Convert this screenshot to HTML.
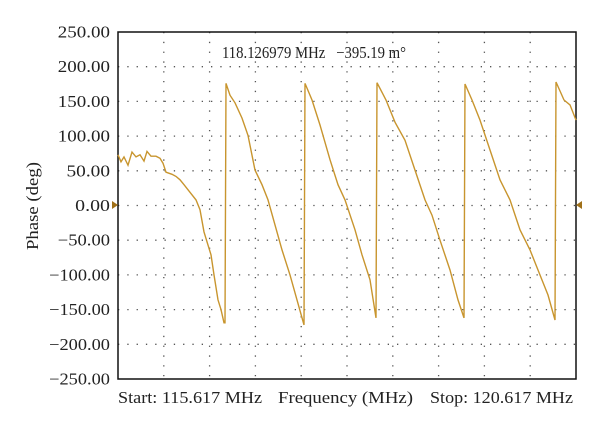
<!DOCTYPE html>
<html><head><meta charset="utf-8"><style>
body{margin:0;background:#fff}
svg text{font-family:"Liberation Serif",serif;fill:#222}
</style></head><body>
<svg width="600" height="430" viewBox="0 0 600 430">
<g id="grid"></g>
<g id="ylabels"></g>
<rect x="118" y="32" width="458" height="347" fill="none" stroke="#111" stroke-width="1.5"/>
<polyline id="line" fill="none" stroke="#c8952e" stroke-width="1.4"/>
<polygon points="112,201 118,205 112,209" fill="#a07018"/>
<polygon points="582,201 576,205 582,209" fill="#a07018"/>
<text x="222" y="58" font-size="16.5" textLength="184" lengthAdjust="spacingAndGlyphs">118.126979 MHz&#160;&#160;&#160;−395.19 m°</text>
<text x="118" y="403" font-size="16.5" textLength="144" lengthAdjust="spacingAndGlyphs">Start: 115.617 MHz</text>
<text x="278" y="403" font-size="16.5" textLength="135" lengthAdjust="spacingAndGlyphs">Frequency (MHz)</text>
<text x="430" y="403" font-size="16.5" textLength="143" lengthAdjust="spacingAndGlyphs">Stop: 120.617 MHz</text>
<text transform="translate(38,206) rotate(-90)" text-anchor="middle" font-size="16.5" textLength="88" lengthAdjust="spacingAndGlyphs">Phase (deg)</text>
</svg>
<script>
const yTicks=[250,200,150,100,50,0,-50,-100,-150,-200,-250];
const freqs=[115.617,115.650,115.683,115.726,115.770,115.814,115.857,115.901,115.934,115.977,116.032,116.076,116.108,116.141,116.207,116.250,116.294,116.338,116.403,116.469,116.512,116.556,116.600,116.632,116.665,116.709,116.741,116.774,116.785,116.796,116.840,116.894,116.971,117.036,117.113,117.189,117.255,117.331,117.407,117.495,117.571,117.648,117.659,117.735,117.822,117.931,118.019,118.095,118.204,118.281,118.368,118.434,118.445,118.543,118.641,118.750,118.859,118.969,119.045,119.132,119.241,119.329,119.394,119.405,119.482,119.569,119.678,119.787,119.896,120.006,120.115,120.202,120.311,120.388,120.399,120.486,120.551,120.617];
const phases=[73,63,70,58,77,70,73,64,78,71,71,68,61,48,45,42,37,30,19,8,-6,-38,-57,-71,-100,-136,-150,-169,-169,176,159,148,126,101,51,30,8,-28,-64,-100,-136,-172,176,152,116,66,30,8,-35,-71,-107,-162,177,152,120,94,51,8,-14,-50,-93,-136,-162,175,152,123,80,37,8,-35,-64,-93,-129,-165,178,152,145,123];
const X0=118,X1=576,Y0=32,Y1=379,F0=115.617,F1=120.617;
const xs=f=>X0+(f-F0)/(F1-F0)*(X1-X0);
const ys=v=>Y0+(250-v)/500*(Y1-Y0);
const NS="http://www.w3.org/2000/svg";
const grid=document.getElementById('grid'),yl=document.getElementById('ylabels');
for(let i=1;i<10;i++){
  const x=X0+i*(X1-X0)/10;
  const l=document.createElementNS(NS,'line');
  
  
  l.setAttribute('x1',x);l.setAttribute('x2',x);l.setAttribute('y1',Y0);l.setAttribute('y2',Y1);
  l.setAttribute('stroke','#555');l.setAttribute('stroke-width','1.3');l.setAttribute('stroke-dasharray','1.3 8.5');
  grid.appendChild(l);
}
yTicks.forEach(v=>{
  const y=ys(v);
  if(v<250&&v>-250){
    const l=document.createElementNS(NS,'line');
    
    
    l.setAttribute('x1',X0);l.setAttribute('x2',X1);l.setAttribute('y1',y);l.setAttribute('y2',y);
    l.setAttribute('stroke','#555');l.setAttribute('stroke-width','1.3');l.setAttribute('stroke-dasharray','1.3 8');
    grid.appendChild(l);
  }
  const t=document.createElementNS(NS,'text');
  
  
  const s=(v<0?'−':'')+Math.abs(v).toFixed(2);
  t.setAttribute('x',110);t.setAttribute('y',y+5.5);t.setAttribute('text-anchor','end');t.setAttribute('font-size','16.5');
  t.setAttribute('textLength',s.length*8.7);t.setAttribute('lengthAdjust','spacingAndGlyphs');
  t.textContent=s;
  yl.appendChild(t);
});
document.getElementById('line').setAttribute('points',freqs.map((f,i)=>xs(f).toFixed(1)+','+ys(phases[i]).toFixed(1)).join(' '));
</script>
</body></html>
